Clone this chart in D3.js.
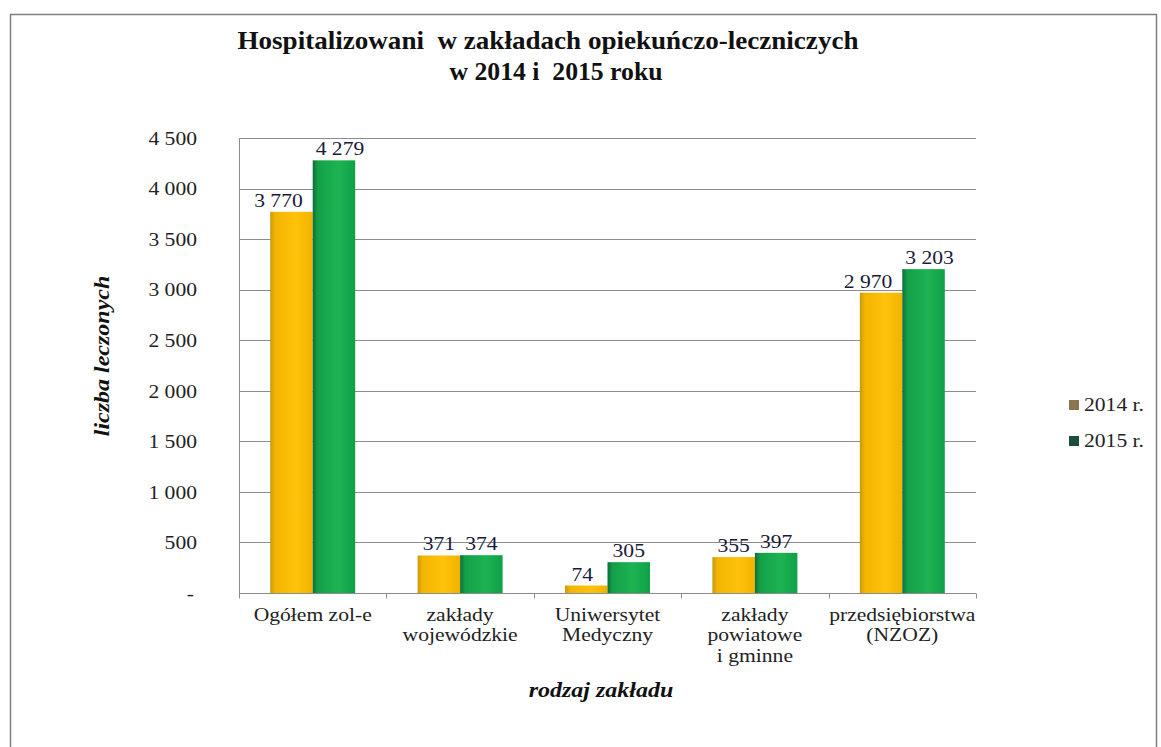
<!DOCTYPE html>
<html>
<head>
<meta charset="utf-8">
<script src="https://cdn.jsdelivr.net/npm/d3@7"></script>
<style>
  html, body { margin: 0; padding: 0; background: #fff; }
  svg { display: block; }
  text { font-family: "Liberation Serif", "Times New Roman", serif; }
</style>
</head>
<body>
<svg id="chart" width="1161" height="747"></svg>
<script>
const categories = [
  ["Ogółem zol-e"],
  ["zakłady", "wojewódzkie"],
  ["Uniwersytet", "Medyczny"],
  ["zakłady", "powiatowe", "i gminne"],
  ["przedsiębiorstwa", "(NZOZ)"]
];
const values2014 = [3770, 371, 74, 355, 2970];
const values2015 = [4279, 374, 305, 397, 3203];
const seriesNames = ["2014 r.", "2015 r."];
const yTicks = [0, 500, 1000, 1500, 2000, 2500, 3000, 3500, 4000, 4500];
const titleLines = ["Hospitalizowani\u00a0 w zakładach opiekuńczo-leczniczych", "w 2014 i\u00a0 2015 roku"];
const yTitle = "liczba leczonych";
const xTitle = "rodzaj zakładu";

const SX = 1.2; // horizontal stretch of the scanned text

const svg = d3.select("#chart");

// outer frame
svg.append("rect").attr("x", 10.5).attr("y", 14.5).attr("width", 1146).attr("height", 740)
  .attr("fill", "#fff").attr("stroke", "#7f7f7f").attr("stroke-width", 1.5);

const plot = { left: 239, right: 976, top: 138, bottom: 593 };

const x0 = d3.scaleBand().domain(d3.range(categories.length)).range([plot.left, plot.right]).paddingInner(0).paddingOuter(0);
const groupW = 85;
const x1 = d3.scaleBand().domain([0, 1]).range([0, groupW]).padding(0);
const y = d3.scaleLinear().domain([0, 4500]).range([plot.bottom, plot.top]);

const fmtNum = v => d3.format(",")(v).replace(/,/g, " ");

// gradients
const defs = svg.append("defs");
function grad(id, stops) {
  const g = defs.append("linearGradient").attr("id", id).attr("x1", "0").attr("x2", "1").attr("y1", "0").attr("y2", "0");
  stops.forEach(s => g.append("stop").attr("offset", s[0]).attr("stop-color", s[1]));
}
grad("g2014", [[0, "#c99a10"], [0.12, "#f3b500"], [0.6, "#ffc20a"], [1, "#f2b300"]]);
grad("g2015", [[0, "#0d6d3a"], [0.12, "#13a048"], [0.6, "#1db352"], [1, "#10a048"]]);

// gridlines
svg.append("g").selectAll("line").data(yTicks.filter(d => d > 0)).join("line")
  .attr("x1", plot.left).attr("x2", plot.right)
  .attr("y1", d => Math.round(y(d)) + 0.5).attr("y2", d => Math.round(y(d)) + 0.5)
  .attr("stroke", "#8c8c8c").attr("stroke-width", 1);

// y axis
const yAxis = d3.axisLeft(y).tickValues(yTicks).tickSize(0).tickPadding(0)
  .tickFormat(d => d === 0 ? "-" : fmtNum(d));
const gy = svg.append("g").attr("transform", `translate(${plot.left - 42},0)`).call(yAxis);
gy.select(".domain").remove();
gy.selectAll("text").attr("font-size", 18).attr("fill", "#222")
  .attr("x", null).attr("dy", "0.35em")
  .attr("transform", d => (d === 0 ? "translate(-3,0) " : "") + `scale(${SX},1)`);
svg.append("line").attr("x1", plot.left + 0.5).attr("x2", plot.left + 0.5)
  .attr("y1", plot.top).attr("y2", plot.bottom).attr("stroke", "#8c8c8c");

// x axis
const gx = svg.append("g").attr("transform", `translate(0,${plot.bottom + 0.5})`);
gx.append("line").attr("x1", plot.left).attr("x2", plot.right).attr("stroke", "#8c8c8c");
gx.selectAll("line.tk").data(d3.range(categories.length + 1)).join("line").attr("class", "tk")
  .attr("x1", i => Math.round(plot.left + i * x0.bandwidth()) + 0.5)
  .attr("x2", i => Math.round(plot.left + i * x0.bandwidth()) + 0.5)
  .attr("y1", 0).attr("y2", 5).attr("stroke", "#8c8c8c");

gx.selectAll("text.cat").data(categories).join("text").attr("class", "cat")
  .attr("text-anchor", "middle").attr("font-size", 18).attr("fill", "#222")
  .attr("transform", (d, i) => `translate(${x0(i) + x0.bandwidth() / 2},27) scale(${SX},1)`)
  .each(function(lines) {
    d3.select(this).selectAll("tspan").data(lines).join("tspan")
      .attr("x", 0).attr("y", (l, j) => j * 21).text(l => l);
  });

// bars
const data = categories.map((c, i) => ({ i, vals: [values2014[i], values2015[i]] }));
const groups = svg.append("g").selectAll("g").data(data).join("g")
  .attr("transform", d => `translate(${x0(d.i) + (x0.bandwidth() - groupW) / 2},0)`);

groups.selectAll("rect").data(d => d.vals.map((v, k) => ({ v, k }))).join("rect")
  .attr("x", d => x1(d.k)).attr("width", x1.bandwidth())
  .attr("y", d => y(d.v)).attr("height", d => plot.bottom - y(d.v))
  .attr("fill", d => d.k === 0 ? "url(#g2014)" : "url(#g2015)");

// value labels: wide labels are nudged apart so they do not collide
groups.selectAll("text").data(d => d.vals.map((v, k) => ({ v, k }))).join("text")
  .attr("transform", d => {
    const nudge = d.v >= 1000 ? (d.k === 0 ? -13 : 6) : (d.k === 0 && d.v < 100 ? -4 : 0);
    return `translate(${x1(d.k) + x1.bandwidth() / 2 + nudge},${y(d.v) - 5}) scale(${SX},1)`;
  })
  .attr("text-anchor", "middle").attr("font-size", 18).attr("fill", "#1a1a3a")
  .text(d => fmtNum(d.v));

// title
const titleW = [621, 213];
svg.append("g").selectAll("text").data(titleLines).join("text")
  .attr("x", (d, i) => i === 0 ? 548 : 556)
  .attr("y", (d, i) => 49 + i * 31)
  .attr("text-anchor", "middle")
  .attr("font-size", 25).attr("font-weight", "bold").attr("fill", "#111")
  .attr("textLength", (d, i) => titleW[i]).attr("lengthAdjust", "spacingAndGlyphs")
  .text(d => d);

// axis titles
svg.append("text").attr("transform", `translate(109,${356}) rotate(-90) scale(${SX},1)`)
  .attr("text-anchor", "middle").attr("font-size", 20).attr("font-weight", "bold")
  .attr("font-style", "italic").attr("fill", "#111").text(yTitle);
svg.append("text").attr("transform", `translate(601,697) scale(${SX},1)`)
  .attr("text-anchor", "middle").attr("font-size", 20).attr("font-weight", "bold")
  .attr("font-style", "italic").attr("fill", "#111").text(xTitle);

// legend
const legendColors = ["#8b7551", "#1c4f3a"];
const lg = svg.append("g").selectAll("g").data(seriesNames).join("g")
  .attr("transform", (d, i) => `translate(1069,${405 + i * 36})`);
lg.append("rect").attr("x", 0).attr("y", -5).attr("width", 10).attr("height", 10)
  .attr("fill", (d, i) => legendColors[i]);
lg.append("text").attr("transform", `translate(15,6) scale(${SX},1)`)
  .attr("font-size", 18).attr("fill", "#222").text(d => d);
</script>
</body>
</html>
